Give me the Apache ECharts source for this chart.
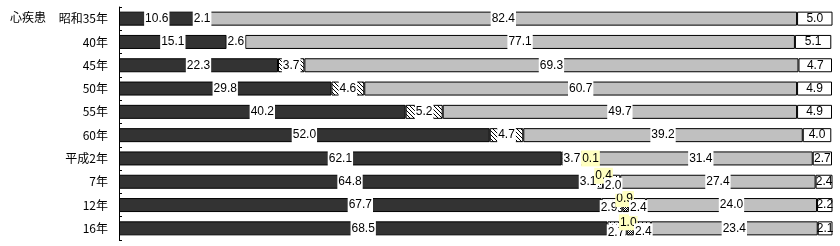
<!DOCTYPE html>
<html><head><meta charset="utf-8">
<script src="https://cdn.jsdelivr.net/npm/echarts@6/dist/echarts.min.js"></script>
<style>html,body{margin:0;padding:0;background:#fff}#c{width:840px;height:246px}</style>
</head><body><div id="c"></div>
<script>
const categories = ['昭和35年','40年','45年','50年','55年','60年','平成2年','7年','12年','16年'];
const darkVals   = [10.6,15.1,22.3,29.8,40.2,52.0,62.1,64.8,67.7,68.5];
const hatchVals  = [2.1,2.6,3.7,4.6,5.2,4.7,'-','-','-','-'];
const dotVals    = ['-','-','-','-','-','-',3.7,3.1,2.9,2.7];
const crossVals  = ['-','-','-','-','-','-',0.1,0.4,0.9,1.0];
const dot2Vals   = ['-','-','-','-','-','-','-',2.0,2.4,2.4];
const grayVals   = [82.4,77.1,69.3,60.7,49.7,39.2,31.4,27.4,24.0,23.4];
const whiteVals  = [5.0,5.1,4.7,4.9,4.9,4.0,2.7,2.4,2.2,2.1];
const title = '心疾患';

function pat(w,h,pts){
  const c=document.createElement('canvas');c.width=w;c.height=h;
  const g=c.getContext('2d');g.fillStyle='#fff';g.fillRect(0,0,w,h);g.fillStyle='#000';
  pts.forEach(p=>g.fillRect(p[0],p[1],1,1));
  return {image:c,repeat:'repeat'};
}
const diag = pat(4,4,[[0,0],[1,1],[2,2],[3,3]]);
const dots = pat(4,4,[[0,0],[2,2]]);
const cross = pat(2,2,[[0,0],[1,1]]);

// label offsets (style, kept separate from data)
const offs = {
  dot:  {6:[-3,0],7:[-4,0],8:[-3,3],9:[-1,4]},
  cross:{6:[2,0],7:[-1,-6],8:[-1,-6],9:[-2,-6]},
  dot2: {7:[0,4],8:[1,3],9:[1,3]}
};

const baseLabel = {show:true,position:'inside',color:'#000',fontFamily:'Liberation Sans',fontSize:12,
  backgroundColor:'#fff',padding:[1,1],lineHeight:14,
  formatter:p=>(typeof p.value==='number'?p.value.toFixed(1):'')};

function mk(name,vals,color,key,extraLabel){
  return {name,type:'bar',stack:'a',barWidth:14,
    itemStyle:{color,borderColor:'#000',borderWidth:1},
    label:Object.assign({},baseLabel,extraLabel||{}),
    data:vals.map((v,i)=>{
      const o = key && offs[key] && offs[key][i];
      return o ? {value:v,label:{offset:o}} : v;
    })};
}

const chart = echarts.init(document.getElementById('c'),null,{renderer:'canvas'});
chart.setOption({
  animation:false,
  grid:{left:119,right:8,top:7,bottom:6,containLabel:false},
  xAxis:{type:'value',min:0,max:100,show:false},
  yAxis:{type:'category',data:categories,inverse:true,
    axisLine:{lineStyle:{color:'#000',width:1}},
    axisTick:{show:true,inside:true,length:3,lineStyle:{color:'#000'}},
    axisLabel:{color:'#000',fontSize:12,fontFamily:'Noto Sans CJK JP',margin:11}},
  graphic:[{type:'text',left:10,top:11,style:{text:title,fontSize:12,fontFamily:'Noto Sans CJK JP',fill:'#000'}}],
  series:[
    mk('s1',darkVals,'#333333'),
    mk('s2',hatchVals,diag),
    mk('s2b',dotVals,dots,'dot'),
    mk('s3',crossVals,cross,'cross',{backgroundColor:'#FFFFC0'}),
    mk('s4',dot2Vals,dots,'dot2'),
    mk('s5',grayVals,'#C0C0C0'),
    mk('s6',whiteVals,'#FFFFFF',null,{backgroundColor:'transparent'})
  ]
});
</script></body></html>
